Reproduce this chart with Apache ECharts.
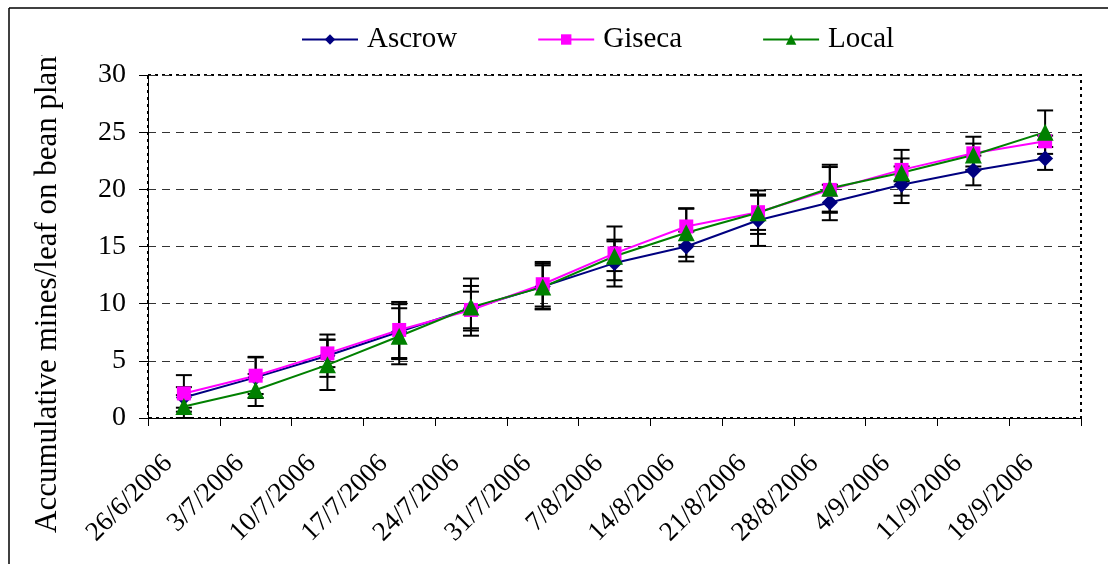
<!DOCTYPE html>
<html>
<head>
<meta charset="utf-8">
<script src="https://cdn.jsdelivr.net/npm/echarts@6/dist/echarts.min.js"></script>
<style>
  html, body { margin: 0; padding: 0; background: #fff; }
  #chart { width: 1108px; height: 564px; }
</style>
</head>
<body>
<div id="chart"></div>
<script>
// Sampling dates
const categories = ['26/6/2006', '3/7/2006', '10/7/2006', '17/7/2006', '24/7/2006', '31/7/2006',
  '7/8/2006', '14/8/2006', '21/8/2006', '28/8/2006', '4/9/2006', '11/9/2006', '18/9/2006'];

// Accumulative mines per leaf, by bean variety
const ascrow = [1.8, 3.55, 5.45, 7.55, 9.6, 11.5, 13.55, 15.0, 17.3, 18.85, 20.4, 21.65, 22.7];
const giseca = [2.15, 3.7, 5.65, 7.7, 9.45, 11.7, 14.4, 16.75, 18.0, 19.95, 21.7, 23.15, 24.2];
const local  = [1.0, 2.45, 4.65, 7.15, 9.7, 11.45, 14.15, 16.2, 17.95, 20.1, 21.45, 23.0, 25.0];

// Standard errors (±)
const ascrowErr = [0.9, 1.8, 1.85, 2.4, 1.95, 2.0, 2.05, 1.3, 2.25, 1.55, 1.6, 1.3, 1.0];
const gisecaErr = [1.6, 1.6, 1.2, 2.45, 1.6, 1.95, 2.35, 1.6, 1.9, 2.0, 1.0, 1.45, 0.5];
const localErr  = [1.0, 1.4, 2.2, 2.45, 2.5, 1.9, 1.3, 2.1, 1.5, 2.05, 2.0, 1.0, 1.9];

// Y axis ticks
const yTicks = [0, 5, 10, 15, 20, 25, 30];

const FONT = 'Liberation Serif';

function errorSeries(name, values, errs) {
  return {
    name: name + ' SE',
    type: 'custom',
    z: 1,
    silent: true,
    data: values.map((v, i) => [i, v - errs[i], v + errs[i]]),
    renderItem: function (params, api) {
      const lo = api.coord([api.value(0), api.value(1)]);
      const hi = api.coord([api.value(0), api.value(2)]);
      const half = 8;
      const style = { stroke: '#000', lineWidth: 2 };
      return {
        type: 'group',
        children: [
          { type: 'line', shape: { x1: lo[0], y1: lo[1], x2: hi[0], y2: hi[1] }, style: style },
          { type: 'line', shape: { x1: hi[0] - half, y1: hi[1], x2: hi[0] + half, y2: hi[1] }, style: style },
          { type: 'line', shape: { x1: lo[0] - half, y1: lo[1], x2: lo[0] + half, y2: lo[1] }, style: style }
        ]
      };
    }
  };
}

function lineSeries(name, values, color, symbol, size) {
  return {
    name: name,
    type: 'line',
    z: 3,
    data: values,
    symbol: symbol,
    symbolSize: size,
    showAllSymbol: true,
    lineStyle: { color: color, width: 2 },
    itemStyle: { color: color },
    emphasis: { disabled: true },
    animation: false
  };
}

const chart = echarts.init(document.getElementById('chart'), null, { renderer: 'canvas' });

chart.setOption({
  animation: false,
  backgroundColor: '#fff',
  textStyle: { fontFamily: FONT, color: '#000' },
  legend: {
    data: ['Ascrow', 'Giseca', 'Local'],
    left: 296,
    top: 20,
    itemWidth: 56,
    itemHeight: 13,
    itemGap: 80,
    textStyle: { fontFamily: FONT, fontSize: 29, color: '#000', padding: [0, 0, 0, 4] }
  },
  grid: {
    left: 148, right: 27, top: 75, bottom: 146,
    show: true,
    borderColor: '#000',
    borderWidth: 2,
    borderType: [3, 4],
    containLabel: false
  },
  xAxis: {
    type: 'category',
    data: categories,
    boundaryGap: true,
    axisLine: { show: true, lineStyle: { color: '#000', width: 1 } },
    axisTick: { show: true, inside: false, length: 8, lineStyle: { color: '#000' } },
    axisLabel: {
      interval: 0,
      rotate: 45,
      margin: 26,
      padding: [0, 22, 0, 0],
      fontFamily: FONT,
      fontSize: 27,
      color: '#000'
    },
    splitLine: { show: false }
  },
  yAxis: {
    type: 'value',
    min: yTicks[0],
    max: yTicks[yTicks.length - 1],
    interval: 5,
    axisLine: { show: true, lineStyle: { color: '#000', width: 1 } },
    axisTick: { show: true, inside: false, length: 9, lineStyle: { color: '#000' } },
    axisLabel: { margin: 22, fontFamily: FONT, fontSize: 28, color: '#000' },
    splitLine: { show: true, lineStyle: { color: '#333', width: 1, type: [8, 6] } }
  },
  graphic: [
    // outer chart frame (left and top edges)
    { type: 'line', z: 10, shape: { x1: 9, y1: 8, x2: 9, y2: 564 }, style: { stroke: '#000', lineWidth: 1.5 } },
    { type: 'line', z: 10, shape: { x1: 9, y1: 8, x2: 1108, y2: 8 }, style: { stroke: '#000', lineWidth: 1.5 } },
    // vertical axis title, cut off near the top of the frame
    {
      type: 'text', z: 5,
      x: 48, y: 533, rotation: Math.PI / 2,
      style: {
        text: 'Accumulative mines/leaf on bean plant',
        font: '31px "Liberation Serif"',
        fill: '#000',
        align: 'left',
        verticalAlign: 'middle'
      }
    },
    { type: 'rect', z: 6, shape: { x: 20, y: 10, width: 65, height: 45 }, style: { fill: '#fff' } }
  ],
  series: [
    errorSeries('Ascrow', ascrow, ascrowErr),
    errorSeries('Giseca', giseca, gisecaErr),
    errorSeries('Local', local, localErr),
    lineSeries('Ascrow', ascrow, '#000080', 'diamond', 16),
    lineSeries('Giseca', giseca, '#FF00FF', 'rect', 14),
    lineSeries('Local', local, '#008000', 'triangle', 17)
  ]
});
</script>
</body>
</html>
